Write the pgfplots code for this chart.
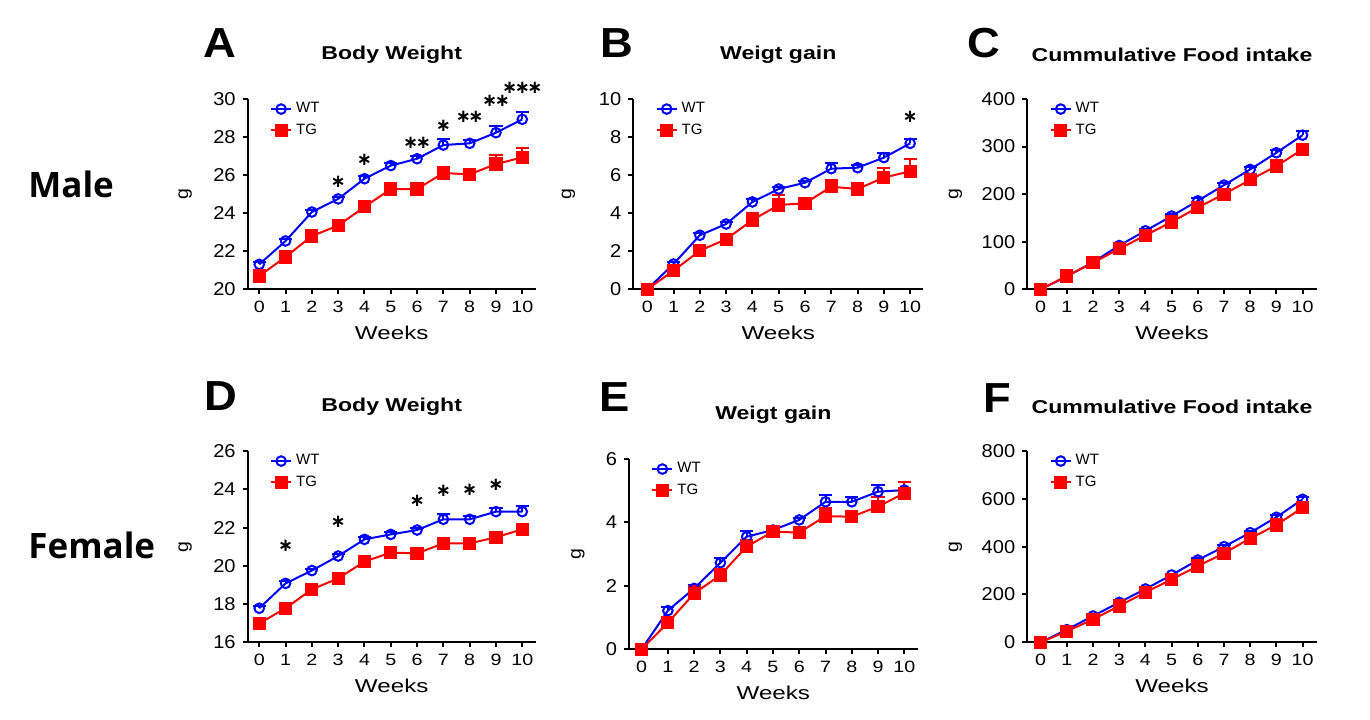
\documentclass[border=0pt]{standalone}
\usepackage{fontspec}
\setmainfont{Liberation Sans}
\newfontfamily\xtickfont{Liberation Sans}[FakeStretch=1.2]
\newfontfamily\ytickfont{Liberation Sans}[FakeStretch=1.08]
\newfontfamily\titlefont{Liberation Sans}[FakeStretch=1.24]
\newfontfamily\labfont{Liberation Sans}[FakeStretch=1.3]
\newfontfamily\letterfont{Liberation Sans}[FakeStretch=1.08]
\newfontfamily\sexfont{Open Sans}
\newfontfamily\starfont{DejaVu Sans}
\usepackage{pgfplots}
\pgfplotsset{compat=1.18}
\usepackage{pgfplotstable}

\pgfplotstableread{
x y e
0 21.31 0.12
1 22.54 0.12
2 24.06 0.12
3 24.75 0.12
4 25.81 0.12
5 26.50 0.12
6 26.86 0.12
7 27.58 0.30
8 27.67 0.20
9 28.23 0.37
10 28.93 0.37
}\AWT
\pgfplotstableread{
x y e
0 20.70 0.30
1 21.70 0.20
2 22.80 0.20
3 23.35 0.15
4 24.33 0.20
5 25.27 0.25
6 25.27 0.20
7 26.11 0.30
8 26.04 0.25
9 26.58 0.48
10 26.93 0.48
}\ATG
\pgfplotstableread{
x y e
0 0 0
1 1.33 0.10
2 2.84 0.10
3 3.43 0.10
4 4.59 0.15
5 5.27 0.10
6 5.60 0.10
7 6.34 0.28
8 6.39 0.15
9 6.92 0.26
10 7.67 0.22
}\BWT
\pgfplotstableread{
x y e
0 0 0
1 0.98 0.15
2 2.03 0.15
3 2.63 0.20
4 3.64 0.38
5 4.43 0.50
6 4.52 0.30
7 5.39 0.35
8 5.27 0.30
9 5.87 0.50
10 6.20 0.65
}\BTG
\pgfplotstableread{
x y e
0 0 0
1 27 2
2 57 3
3 92 3
4 123 4
5 154 4
6 186 5
7 219 5
8 252 5
9 287 6
10 324 9
}\CWT
\pgfplotstableread{
x y e
0 0 0
1 28 2
2 56 3
3 85 3
4 113.5 4
5 141.5 4
6 172 4
7 200 5
8 230 5
9 259 5
10 294 6
}\CTG
\pgfplotstableread{
x y e
0 17.78 0.10
1 19.08 0.10
2 19.75 0.10
3 20.51 0.10
4 21.38 0.10
5 21.64 0.14
6 21.87 0.10
7 22.43 0.30
8 22.43 0.15
9 22.83 0.18
10 22.83 0.30
}\DWT
\pgfplotstableread{
x y e
0 16.99 0.10
1 17.78 0.15
2 18.77 0.10
3 19.34 0.10
4 20.22 0.10
5 20.69 0.10
6 20.65 0.10
7 21.17 0.15
8 21.17 0.10
9 21.49 0.15
10 21.91 0.26
}\DTG
\pgfplotstableread{
x y e
0 0 0
1 1.22 0.10
2 1.92 0.10
3 2.73 0.15
4 3.55 0.18
5 3.76 0.10
6 4.08 0.05
7 4.65 0.20
8 4.65 0.15
9 4.97 0.20
10 5.02 0.25
}\EWT
\pgfplotstableread{
x y e
0 0 0
1 0.84 0.10
2 1.76 0.24
3 2.34 0.20
4 3.24 0.20
5 3.71 0.15
6 3.68 0.10
7 4.20 0.24
8 4.18 0.15
9 4.50 0.30
10 4.92 0.34
}\ETG
\pgfplotstableread{
x y e
0 0 0
1 53 3
2 110 4
3 167 5
4 223 6
5 281.5 6
6 344 7
7 400 8
8 458.5 8
9 523 9
10 598 10
}\FWT
\pgfplotstableread{
x y e
0 0 0
1 46 3
2 96 4
3 152 5
4 209 5
5 263 6
6 319 6
7 372 7
8 435 7
9 490.6 8
10 563 9
}\FTG

\tikzset{sigstar/.style={font=\starfont\bfseries\fontsize{9}{9}\selectfont, inner sep=0pt}}
\newcommand\sk{\kern-1.2pt}

\pgfplotsset{
 legend image code/.code={\draw[mark repeat=2,mark phase=2,#1] plot coordinates {(0pt,0pt) (5pt,0pt) (10pt,0pt)};},
 wt/.style={blue, line width=1pt, mark=o, mark size=2.4pt, mark options={solid},
    error bars/.cd, y dir=plus, y explicit,
    error bar style={line width=1pt},
    error mark options={rotate=90, mark size=3.3pt, line width=1pt}},
 tg/.style={red, line width=1pt, mark=square*, mark size=2.8pt, mark options={solid},
    error bars/.cd, y dir=plus, y explicit,
    error bar style={line width=1pt},
    error mark options={rotate=90, mark size=3.3pt, line width=1pt}},
 panel/.style={
  scale only axis,
  anchor=south west,
  axis x line*=bottom, axis y line*=left,
  axis line style={line width=1pt},
  tick style={black, line width=1pt},
  major tick length=2.5pt,
  tick align=outside,
  xtick={0,...,10},
  xticklabel style={font=\xtickfont\fontsize{8.2}{9}\selectfont},
  yticklabel style={font=\ytickfont\fontsize{9.3}{10}\selectfont},
  /pgf/number format/assume math mode=true,
  xlabel={Weeks}, ylabel={g},
  xlabel style={font=\labfont\fontsize{9.3}{10}\selectfont, at={(axis description cs:0.5,0)}, anchor=center, yshift=-21.6pt},
  ylabel style={font=\ytickfont\fontsize{9}{9}\selectfont, at={(axis description cs:0,0.5)}, anchor=center},
  title style={font=\titlefont\bfseries\fontsize{9.3}{10}\selectfont, at={(axis description cs:0.5,1)}, anchor=center, yshift=16pt},
  legend style={draw=none, fill=none, at={(axis description cs:0,1)}, anchor=north west, xshift=8pt, yshift=2.5pt,
    font=\fontsize{7.5}{8}\selectfont},
  legend cell align=left,
  clip=false,
 },
}

\begin{document}
\begin{tikzpicture}
\path[use as bounding box] (0,0) rectangle (685pt,359.5pt);

\node[anchor=west, font=\sexfont\bfseries\fontsize{17.5}{18}\selectfont, inner sep=0pt] at (14pt,267.5pt) {Male};
\node[anchor=west, font=\sexfont\bfseries\fontsize{17.5}{18}\selectfont, inner sep=0pt] at (14pt,87pt) {Female};

\node[font=\letterfont\bfseries\fontsize{21}{21}\selectfont, inner sep=0pt] at (110pt,338pt) {A};
\node[font=\letterfont\bfseries\fontsize{21}{21}\selectfont, inner sep=0pt] at (308.5pt,338pt) {B};
\node[font=\letterfont\bfseries\fontsize{21}{21}\selectfont, inner sep=0pt] at (492pt,338pt) {C};
\node[font=\letterfont\bfseries\fontsize{21}{21}\selectfont, inner sep=0pt] at (110.5pt,161.5pt) {D};
\node[font=\letterfont\bfseries\fontsize{21}{21}\selectfont, inner sep=0pt] at (307.5pt,161pt) {E};
\node[font=\letterfont\bfseries\fontsize{21}{21}\selectfont, inner sep=0pt] at (498.5pt,160.5pt) {F};

% A
\begin{axis}[panel, at={(123.85pt,214.85pt)}, width=144pt, height=95.15pt,
  xmin=-0.44, xmax=10.51, ymin=20, ymax=30, ytick={20,22,...,30},
  title={Body Weight}, ylabel style={yshift=31.3pt}]
\addplot[wt] table[x=x,y=y,y error=e]{\AWT};
\addplot[tg] table[x=x,y=y,y error=e]{\ATG};
\legend{WT,TG}
\node[sigstar] at (axis cs:3,25.66) {∗};
\node[sigstar] at (axis cs:4,26.80) {∗};
\node[sigstar] at (axis cs:6,27.71) {∗\sk∗};
\node[sigstar] at (axis cs:7,28.60) {∗};
\node[sigstar] at (axis cs:8,29.07) {∗\sk∗};
\node[sigstar] at (axis cs:9,29.91) {∗\sk∗};
\node[sigstar] at (axis cs:10,30.56) {∗\sk∗\sk∗};
\end{axis}

% B
\begin{axis}[panel, at={(316.65pt,214.85pt)}, width=145pt, height=95.15pt,
  xmin=-0.53, xmax=10.5, ymin=0, ymax=10, ytick={0,2,...,10},
  title={Weigt gain}, ylabel style={yshift=32.5pt}]
\addplot[wt] table[x=x,y=y,y error=e]{\BWT};
\addplot[tg] table[x=x,y=y,y error=e]{\BTG};
\legend{WT,TG}
\node[sigstar] at (axis cs:10,9.07) {∗};
\end{axis}

% C
\begin{axis}[panel, at={(513.65pt,214.85pt)}, width=144.7pt, height=95.15pt,
  xmin=-0.51, xmax=10.54, ymin=0, ymax=400, ytick={0,100,...,400},
  title={Cummulative Food intake}, ylabel style={yshift=36pt}]
\addplot[wt] table[x=x,y=y,y error=e]{\CWT};
\addplot[tg] table[x=x,y=y,y error=e]{\CTG};
\legend{WT,TG}
\end{axis}

% D
\begin{axis}[panel, at={(123.85pt,38.35pt)}, width=144pt, height=95.65pt,
  xmin=-0.44, xmax=10.51, ymin=16, ymax=26, ytick={16,18,...,26},
  title={Body Weight}, ylabel style={yshift=31.3pt}]
\addplot[wt] table[x=x,y=y,y error=e]{\DWT};
\addplot[tg] table[x=x,y=y,y error=e]{\DTG};
\legend{WT,TG}
\node[sigstar] at (axis cs:1,21.05) {∗};
\node[sigstar] at (axis cs:3,22.27) {∗};
\node[sigstar] at (axis cs:6,23.39) {∗};
\node[sigstar] at (axis cs:7,23.91) {∗};
\node[sigstar] at (axis cs:8,23.96) {∗};
\node[sigstar] at (axis cs:9,24.22) {∗};
\end{axis}

% E
\begin{axis}[panel, at={(314.5pt,34.85pt)}, width=144.35pt, height=95.15pt,
  xmin=-0.48, xmax=10.51, ymin=0, ymax=6, ytick={0,2,4,6},
  title={Weigt gain}, ylabel style={yshift=25.5pt}]
\addplot[wt] table[x=x,y=y,y error=e]{\EWT};
\addplot[tg] table[x=x,y=y,y error=e]{\ETG};
\legend{WT,TG}
\end{axis}

% F
\begin{axis}[panel, at={(513.65pt,38.35pt)}, width=144.7pt, height=95.65pt,
  xmin=-0.51, xmax=10.54, ymin=0, ymax=800, ytick={0,200,...,800},
  title={Cummulative Food intake}, ylabel style={yshift=36pt}]
\addplot[wt] table[x=x,y=y,y error=e]{\FWT};
\addplot[tg] table[x=x,y=y,y error=e]{\FTG};
\legend{WT,TG}
\end{axis}
\end{tikzpicture}
\end{document}
